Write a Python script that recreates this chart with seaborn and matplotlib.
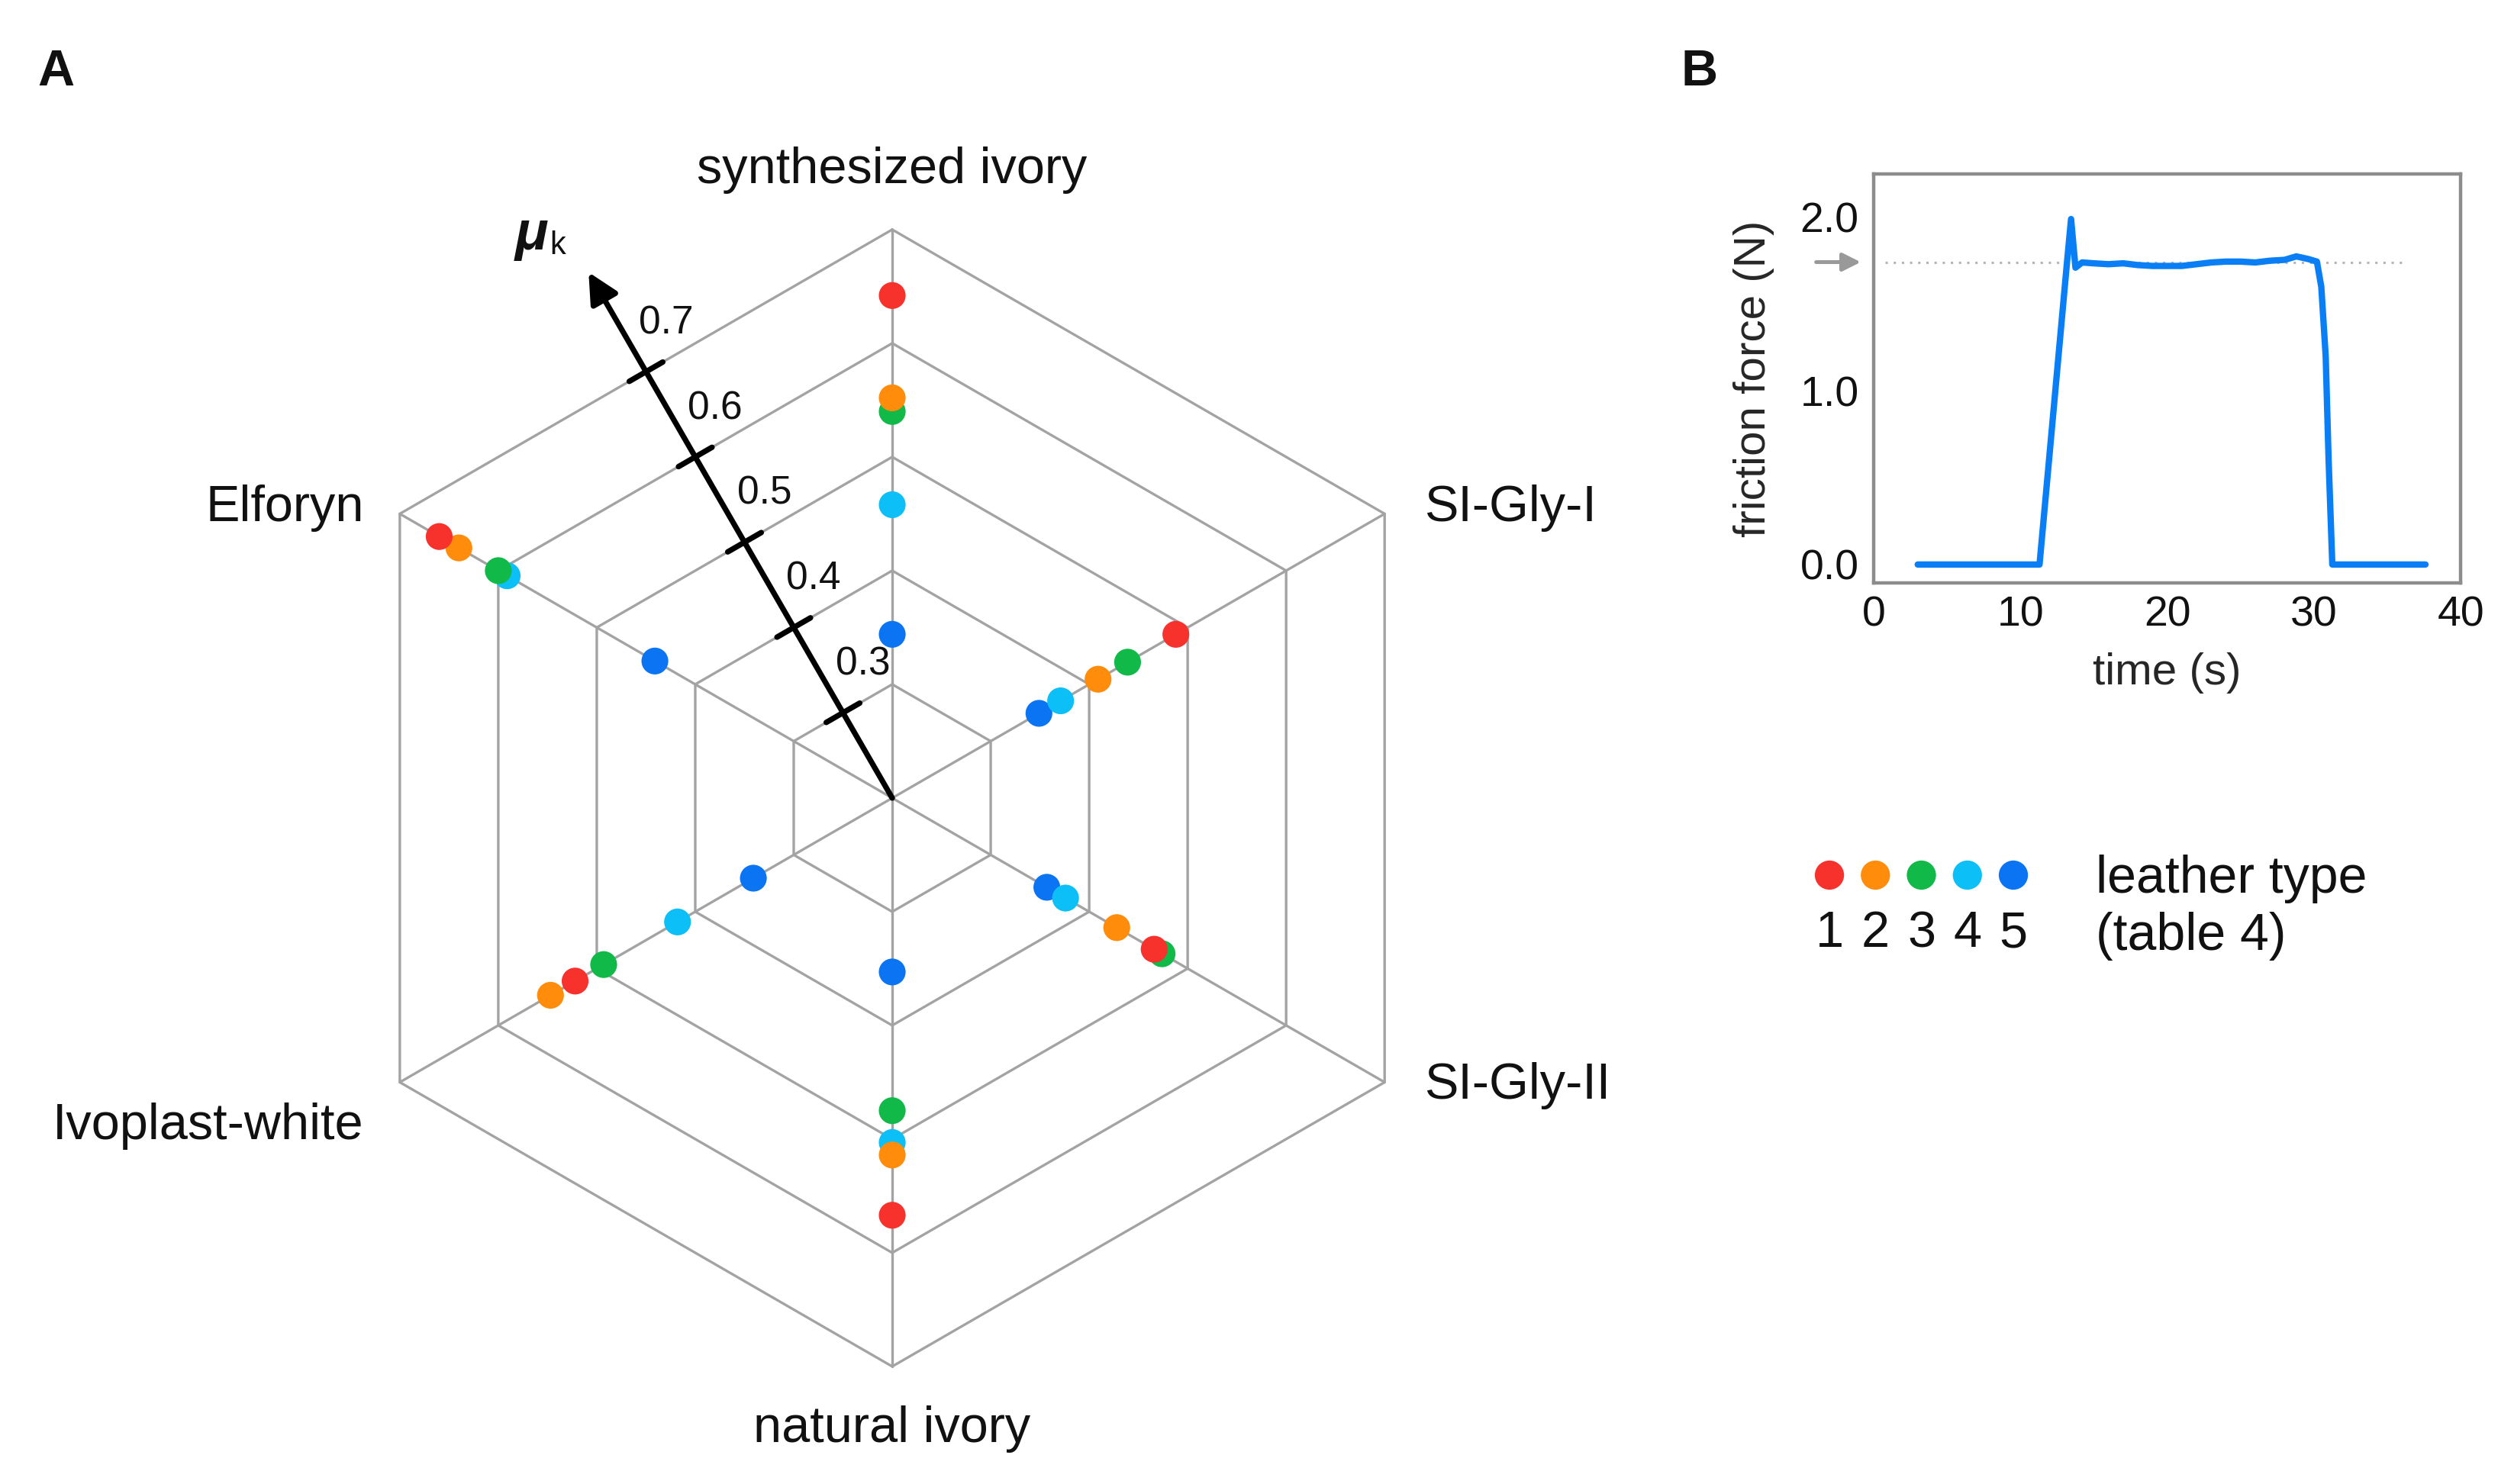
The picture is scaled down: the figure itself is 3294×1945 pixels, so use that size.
import numpy as np
import pandas as pd
import matplotlib
matplotlib.use("Agg")
import matplotlib.pyplot as plt
import seaborn as sns

# panel A: kinetic friction coefficient, one spoke per material
materials = ["synthesized ivory", "SI-Gly-I", "SI-Gly-II", "natural ivory", "Ivoplast-white", "Elforyn"]
spoke_angles = [90, 30, -30, -90, -150, 150]
leather_types = ["1", "2", "3", "4", "5"]
mu_type1 = [0.642, 0.488, 0.466, 0.567, 0.522, 0.660]
mu_type2 = [0.552, 0.409, 0.428, 0.514, 0.547, 0.640]
mu_type3 = [0.540, 0.439, 0.474, 0.475, 0.493, 0.600]
mu_type4 = [0.458, 0.371, 0.376, 0.503, 0.418, 0.591]
mu_type5 = [0.344, 0.349, 0.357, 0.353, 0.341, 0.441]
ring_levels = [0.3, 0.4, 0.5, 0.6, 0.7]
mu_center = 0.2
leather_colors = ["#f7312c", "#ff8c0a", "#10b948", "#0cbff7", "#0a74f2"]

# panel B: friction force trace
time_s = [3.0, 11.3, 13.15, 13.45, 13.75, 14.2, 15, 16, 17, 18, 19, 20, 21, 22, 23, 24,
          25, 26, 27, 28, 28.8, 29.6, 30.2, 30.5, 30.8, 31.0, 31.25, 37.6]
force_n = [0, 0, 1.72, 1.99, 1.71, 1.74, 1.735, 1.73, 1.735, 1.725, 1.72, 1.72, 1.72, 1.73,
           1.74, 1.745, 1.745, 1.74, 1.75, 1.755, 1.775, 1.76, 1.745, 1.6, 1.2, 0.6, 0.0, 0.0]
mean_force = 1.742

sns.set_style("white")
plt.rcParams["font.family"] = ["Liberation Sans", "DejaVu Sans"]
plt.rcParams["text.color"] = "#111111"

fig = plt.figure(figsize=(16.47, 9.725), dpi=200)

# ---------------- panel A ----------------
ax_a = fig.add_axes([0.0835, 0.0026, 0.5428, 0.9193])
ax_a.set_xlim(-1.2, 1.2)
ax_a.set_ylim(-1.2, 1.2)
ax_a.axis("off")

mu_top = ring_levels[-1]
def radius(mu):
    return (np.asarray(mu) - mu_center) / (mu_top - mu_center)

theta = np.deg2rad(spoke_angles)
grid_col = "#a3a3a3"
for lev in ring_levels:
    r = radius(lev)
    xs = np.append(r * np.cos(theta), r * np.cos(theta[0]))
    ys = np.append(r * np.sin(theta), r * np.sin(theta[0]))
    ax_a.plot(xs, ys, color=grid_col, lw=1.2, zorder=1)
for t in theta:
    ax_a.plot([0, np.cos(t)], [0, np.sin(t)], color=grid_col, lw=1.2, zorder=1)

rows = []
all_mu = [mu_type1, mu_type2, mu_type3, mu_type4, mu_type5]
for j, mat in enumerate(materials):
    for i in reversed(range(len(leather_types))):
        r = radius(all_mu[i][j])
        rows.append({"material": mat, "leather": leather_types[i],
                     "x": r * np.cos(theta[j]), "y": r * np.sin(theta[j])})
df = pd.DataFrame(rows)
sns.scatterplot(data=df, x="x", y="y", hue="leather", hue_order=leather_types,
                palette=leather_colors, s=160, linewidth=0, legend=False,
                ax=ax_a, zorder=5)
ax_a.set_xlabel("")
ax_a.set_ylabel("")

# mu_k axis, perpendicular to the ring edges
ang = np.deg2rad(120)
u = np.array([np.cos(ang), np.sin(ang)])
n = np.array([np.cos(ang - np.pi / 2), np.sin(ang - np.pi / 2)])
apothem = np.cos(np.deg2rad(30))
ax_a.plot([0.13 * u[0], 1.0 * u[0]], [0.13 * u[1], 1.0 * u[1]],
          color="white", lw=20, solid_capstyle="butt", zorder=2)
ax_a.annotate("", xy=(1.068 * u[0], 1.068 * u[1]), xytext=(0, 0),
              arrowprops=dict(arrowstyle="-|>", color="black", lw=2.6,
                              mutation_scale=30, shrinkA=0, shrinkB=0), zorder=4)
for lev in ring_levels:
    p = radius(lev) * apothem * u
    a = p - 0.034 * n
    b = p + 0.034 * n
    ax_a.plot([a[0], b[0]], [a[1], b[1]], color="black", lw=2.6, zorder=4)
    ax_a.text(p[0] + 0.035, p[1] + 0.085, f"{lev:.1f}", fontsize=18.5,
              ha="center", va="center", zorder=4)
ax_a.text(-0.634, 0.991, "μ", fontsize=26, fontweight="bold", fontstyle="italic",
          ha="center", va="center")
ax_a.text(-0.588, 0.972, "k", fontsize=15, ha="center", va="center")

label_kw = dict(fontsize=24, va="center", clip_on=False)
ax_a.text(0, 1.105, materials[0], ha="center", **label_kw)
ax_a.text(0.936, 0.510, materials[1], ha="left", **label_kw)
ax_a.text(0.936, -0.506, materials[2], ha="left", **label_kw)
ax_a.text(0, -1.110, materials[3], ha="center", **label_kw)
ax_a.text(-0.929, -0.577, materials[4], ha="right", **label_kw)
ax_a.text(-0.929, 0.510, materials[5], ha="right", **label_kw)

# ---------------- panel B ----------------
ax_b = fig.add_axes([0.7453, 0.6072, 0.2335, 0.2756])
sns.lineplot(x=time_s, y=force_n, ax=ax_b, color="#0a7ff5", lw=3.0)
ax_b.axhline(mean_force, xmin=0.02, xmax=0.907, color="#b5b5b5", ls=(0, (1, 2.5)), lw=1.1, zorder=1)
ax_b.set_xlim(0, 40)
ax_b.set_ylim(-0.106, 2.25)
ax_b.set_xticks(np.arange(0, 41, 5))
ax_b.set_xticklabels([str(v) if v % 10 == 0 else "" for v in range(0, 41, 5)])
ax_b.set_yticks([0, 0.5, 1.0, 1.5, 2.0])
ax_b.set_yticklabels(["0.0", "", "1.0", "", "2.0"])
ax_b.tick_params(axis="x", direction="in", length=8, width=1.4, color="#333333",
                 labelsize=20, pad=6, labelcolor="#111111")
ax_b.tick_params(axis="y", direction="in", length=5, width=1.4, color="#333333",
                 labelsize=20, pad=7, labelcolor="#111111")
for sp in ax_b.spines.values():
    sp.set_color("#8c8c8c")
    sp.set_linewidth(1.6)
ax_b.set_xlabel("time (s)", fontsize=21, labelpad=8)
ax_b.set_ylabel("friction force (N)", fontsize=21, labelpad=12)
ax_b.annotate("", xy=(-0.022, mean_force), xycoords=("axes fraction", "data"),
              xytext=(-0.098, mean_force), textcoords=("axes fraction", "data"),
              arrowprops=dict(arrowstyle="-|>", color="#999999", lw=1.8,
                              mutation_scale=18, shrinkA=0, shrinkB=0),
              annotation_clip=False)

# ---------------- legend ----------------
ax_leg = fig.add_axes([0, 0, 1, 1], zorder=-1)
ax_leg.set_xlim(0, 1)
ax_leg.set_ylim(0, 1)
ax_leg.axis("off")
leg_x = [0.7277 + i * 0.01829 for i in range(len(leather_types))]
sns.scatterplot(x=leg_x, y=[0.4103] * len(leg_x), hue=leather_types, palette=leather_colors,
                s=190, linewidth=0, legend=False, ax=ax_leg)
for x, lab in zip(leg_x, leather_types):
    ax_leg.text(x, 0.3705, lab, fontsize=24, ha="center", va="center")
ax_leg.text(0.8336, 0.4075, "leather type", fontsize=24.5, ha="left", va="center")
ax_leg.text(0.8336, 0.3690, "(table 4)", fontsize=24.5, ha="left", va="center")

fig.text(0.0222, 0.951, "A", fontsize=24, fontweight="bold", ha="center", va="center")
fig.text(0.676, 0.951, "B", fontsize=24, fontweight="bold", ha="center", va="center")

fig.savefig("out.png", dpi=200, facecolor="white")
